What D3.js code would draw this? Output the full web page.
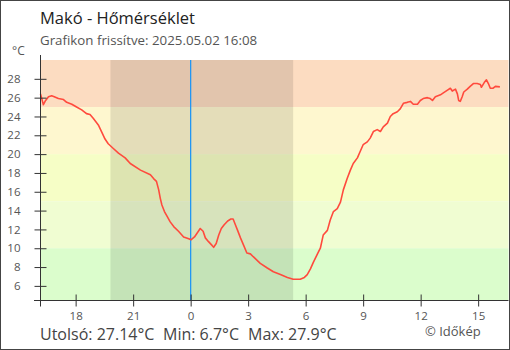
<!DOCTYPE html>
<html>
<head>
<meta charset="utf-8">
<script src="https://cdn.jsdelivr.net/npm/d3@7"></script>
<style>
  html, body { margin: 0; padding: 0; background: #fff; }
  svg { display: block; font-family: "Open Sans", "Noto Sans", sans-serif; }
</style>
</head>
<body>
<svg id="chart" width="510" height="350"></svg>
<script>
// Header texts
const title = "Makó - Hőmérséklet";
const subtitle = "Grafikon frissítve: 2025.05.02 16:08";
const unitLabel = "°C";
const credit = "© Időkép";

// Measurements: clock times (rolling over midnight) and temperatures in °C
const firstDay = "2025-05-01";
const times = ["16:10","16:19","16:26","16:35","16:45","16:53","17:06","17:22","17:32","17:48",
  "18:03","18:19","18:34","18:45","18:55","19:11","19:21","19:32","19:42","19:58",
  "20:14","20:35","20:51","21:23","21:54","22:04","22:13","22:20","22:25","22:30",
  "22:38","22:46","22:56","23:07","23:22","23:38","23:54","00:01","00:12","00:20",
  "00:30","00:39","00:46","00:56","01:07","01:12","01:20","01:28","01:36","01:45",
  "01:56","02:06","02:13","02:20","02:27","02:36","02:46","02:56","03:07","03:16",
  "03:38","04:00","04:19","04:41","05:03","05:21","05:34","05:43","05:56","06:05",
  "06:15","06:24","06:37","06:46","06:55","07:08","07:17","07:27","07:39","07:49",
  "07:58","08:10","08:20","08:29","08:42","08:51","09:00","09:13","09:22","09:32",
  "09:44","09:54","10:03","10:16","10:25","10:34","10:47","10:56","11:06","11:18",
  "11:28","11:37","11:50","11:59","12:08","12:21","12:30","12:37","12:46","13:02",
  "13:11","13:24","13:33","13:39","13:49","13:55","13:59","14:04","14:10","14:15",
  "14:26","14:35","14:45","14:57","15:07","15:10","15:19","15:26","15:32","15:38",
  "15:47","15:54","16:08"];
const temps = [26.4,25.25,25.7,26.1,26.2,26.1,25.9,25.8,25.5,25.3,
  25.0,24.7,24.3,24.2,23.8,23.1,22.4,21.6,21.1,20.6,
  20.1,19.6,19.0,18.3,17.8,17.4,17.1,16.2,15.3,14.6,
  13.9,13.4,12.8,12.3,11.8,11.2,11.0,10.9,11.2,11.6,
  12.1,11.8,11.1,10.7,10.3,10.1,10.5,11.4,12.1,12.5,
  12.9,13.1,13.1,12.5,11.9,11.1,10.3,9.5,9.4,9.1,
  8.4,7.9,7.5,7.2,6.9,6.7,6.7,6.7,6.9,7.2,
  7.8,8.5,9.4,10.0,11.4,11.9,13.0,13.9,14.2,14.9,
  16.2,17.4,18.3,19.0,19.6,20.3,21.0,21.3,21.7,22.4,
  22.6,22.4,22.9,23.3,24.0,24.3,24.5,24.8,25.4,25.5,
  25.6,25.3,25.3,25.7,25.9,26.0,25.9,25.7,26.1,26.3,
  26.5,26.8,27.0,26.7,26.9,26.4,25.7,25.6,26.1,26.6,
  26.9,27.2,27.5,27.5,27.4,27.1,27.6,27.9,27.5,27.0,
  27.0,27.2,27.14];

// Summary values
const lastTemp = "27.14";
const minTemp = "6.7";
const maxTemp = "27.9";

// Axes
const xDomain = ["2025-05-01 16:10", "2025-05-02 16:35"];
const yDomain = [4.5, 30];
const yTicks = [6, 8, 10, 12, 14, 16, 18, 20, 22, 24, 26, 28];

// Temperature bands (upper, lower) and their fills
const bandEdges = [30, 25, 20, 15, 10, 4.5];
const bandColors = ["#fcdcc1", "#fef7cf", "#f6fec6", "#f0fdd2", "#dbfdcc"];

// Night period and the midnight marker
const nightStart = "2025-05-01 19:49";
const nightEnd = "2025-05-02 05:21";
const markerTime = "2025-05-02 00:00";

const parse = d3.timeParse("%Y-%m-%d %H:%M");

// Build dated points, advancing the day whenever the clock wraps
let day = parse(firstDay + " 00:00");
let prevMin = -1;
const data = times.map((t, i) => {
  const [h, m] = t.split(":").map(Number);
  const mins = h * 60 + m;
  if (mins < prevMin) day = d3.timeDay.offset(day, 1);
  prevMin = mins;
  return { date: d3.timeMinute.offset(day, mins), temp: temps[i] };
});

const svg = d3.select("#chart");
const W = 510, H = 350;
const plotL = 40.5, plotR = 508.5, plotT = 60, plotB = 300;

const x = d3.scaleTime().domain(xDomain.map(parse)).range([plotL, plotR]);
const y = d3.scaleLinear().domain(yDomain).range([plotB, plotT]);

// Outer frame
svg.append("rect")
  .attr("x", 0.5).attr("y", 0.5).attr("width", W - 1).attr("height", H - 1)
  .attr("fill", "#fff").attr("stroke", "#444").attr("stroke-width", 1);

// Bands
svg.append("g").selectAll("rect")
  .data(bandColors)
  .join("rect")
  .attr("x", plotL)
  .attr("width", plotR - plotL)
  .attr("y", (c, i) => y(bandEdges[i]))
  .attr("height", (c, i) => y(bandEdges[i + 1]) - y(bandEdges[i]))
  .attr("fill", c => c);

// Night shading
svg.append("rect")
  .attr("x", x(parse(nightStart)))
  .attr("width", x(parse(nightEnd)) - x(parse(nightStart)))
  .attr("y", plotT)
  .attr("height", plotB - plotT)
  .attr("fill", "#000")
  .attr("fill-opacity", 0.1);

// Midnight marker
svg.append("line")
  .attr("x1", x(parse(markerTime))).attr("x2", x(parse(markerTime)))
  .attr("y1", plotT).attr("y2", plotB)
  .attr("stroke", "#2196f3").attr("stroke-width", 1.3);

// Temperature line
svg.append("path")
  .datum(data)
  .attr("fill", "none")
  .attr("stroke", "#ff4a3d")
  .attr("stroke-width", 1.6)
  .attr("stroke-linejoin", "round")
  .attr("d", d3.line().x(d => x(d.date)).y(d => y(d.temp)));

// Y axis
const gy = svg.append("g")
  .attr("transform", `translate(${plotL},0)`)
  .call(d3.axisLeft(y).tickValues(yTicks).tickSize(6).tickPadding(14).tickSizeOuter(0));
gy.select(".domain").remove();
gy.selectAll(".tick line").attr("x1", -6).attr("x2", 6).attr("stroke", "#333");
gy.selectAll(".tick text").attr("fill", "#555").style("font-size", "11.5px")
  .style("font-family", "'Open Sans', sans-serif");
svg.append("line")
  .attr("x1", plotL).attr("x2", plotL).attr("y1", 55).attr("y2", 306.5)
  .attr("stroke", "#333");

// X axis
const gx = svg.append("g")
  .attr("transform", `translate(0,${plotB + 0.5})`)
  .call(d3.axisBottom(x).ticks(d3.timeHour.every(3)).tickFormat(d3.timeFormat("%-H"))
    .tickSize(6).tickPadding(5).tickSizeOuter(0));
gx.select(".domain").remove();
gx.selectAll(".tick line").attr("y1", -6).attr("y2", 6).attr("stroke", "#333");
gx.selectAll(".tick text").attr("fill", "#555").style("font-size", "11.5px")
  .style("font-family", "'Open Sans', sans-serif");
svg.append("line")
  .attr("x1", 34).attr("x2", plotR).attr("y1", plotB + 0.5).attr("y2", plotB + 0.5)
  .attr("stroke", "#333");

// Titles
svg.append("text").attr("x", 40).attr("y", 24)
  .attr("fill", "#222").style("font-size", "16.5px").text(title);
svg.append("text").attr("x", 40).attr("y", 45)
  .attr("fill", "#555").style("font-size", "13.3px").text(subtitle);
svg.append("text").attr("x", 12).attr("y", 55)
  .attr("fill", "#555").style("font-size", "12px").text(unitLabel);

// Summary line
const summary = [
  { x: 40, text: `Utolsó: ${lastTemp}°C` },
  { x: 163, text: `Min: ${minTemp}°C` },
  { x: 248, text: `Max: ${maxTemp}°C` }
];
svg.append("g").selectAll("text")
  .data(summary)
  .join("text")
  .attr("x", d => d.x).attr("y", 339.5)
  .attr("fill", "#444").style("font-size", "16px")
  .text(d => d.text);

svg.append("text").attr("x", 425).attr("y", 336)
  .attr("fill", "#555").style("font-size", "13px").text(credit);
</script>
</body>
</html>
